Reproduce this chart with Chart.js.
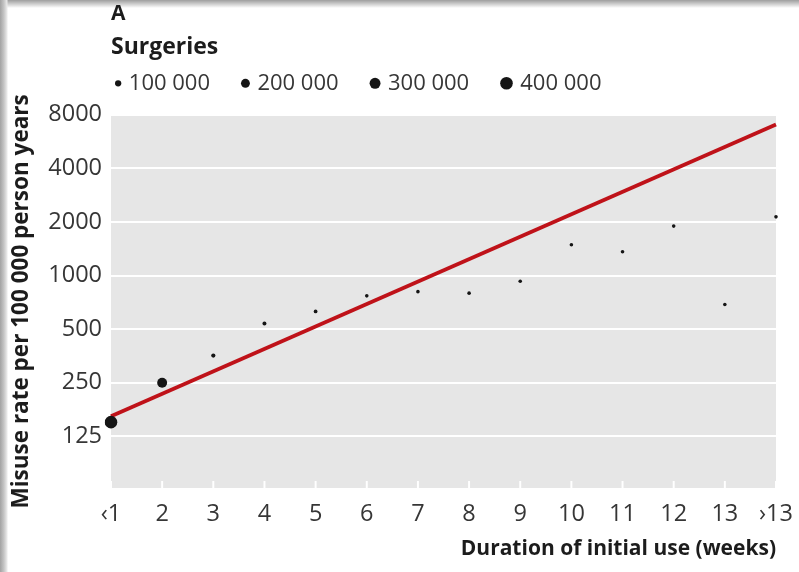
<!DOCTYPE html>
<html>
<head>
<meta charset="utf-8">
<script src="https://cdn.jsdelivr.net/npm/chart.js@4/dist/chart.umd.min.js"></script>
<style>
  html, body { margin: 0; padding: 0; background: #fff; }
  #wrap { position: relative; width: 799px; height: 572px; overflow: hidden; background: #fff; }
  .edge-top { position: absolute; left: 0; top: 0; width: 799px; height: 8px;
    background: linear-gradient(to bottom, #9e9e9e 0, #c2c2c2 3px, #e6e6e6 6px, rgba(255,255,255,0) 8px); }
  .edge-left { position: absolute; left: 0; top: 0; width: 8px; height: 572px;
    background: linear-gradient(to right, #a2a2a2 0, #c6c6c6 4px, #eaeaea 7px, rgba(255,255,255,0) 8px); }
  canvas { position: absolute; left: 0; top: 0; }
</style>
</head>
<body>
<div id="wrap">
  <div class="edge-top"></div>
  <div class="edge-left"></div>
  <canvas id="chart" width="799" height="572"></canvas>
</div>
<script>
// Duration of initial opioid use after surgery
const weeks = ['‹1', '2', '3', '4', '5', '6', '7', '8', '9', '10', '11', '12', '13', '›13'];
// Misuse rate per 100 000 person years for each duration
const misuseRate = [150, 250, 355, 538, 628, 769, 812, 796, 929, 1489, 1360, 1895, 687, 2136];
// Number of surgeries behind each point (sets the dot size)
const surgeries = [400000, 250000, 45000, 40000, 35000, 32000, 30000, 26000, 24000, 22000, 20000, 18000, 16000, 20000];
// Fitted trend at the shortest and longest duration
const fitRate = [162, 7050];
// Log-scale tick values
const yTickValues = [125, 250, 500, 1000, 2000, 4000, 8000];
// Surgery counts shown in the size key
const keySurgeries = [100000, 200000, 300000, 400000];

const FONT = '"Open Sans", "Noto Sans", sans-serif';
const DOT = '#151515';
const TEXT = '#363636';
const TITLE = '#1c1c1c';
const PLOT_BG = '#e6e6e6';

const dotRadius = n => Math.max(1.8, 6.3 * Math.sqrt(n / 400000));
const groupDigits = n => String(n).replace(/\B(?=(\d{3})+(?!\d))/g, ' ');

Chart.defaults.font.family = FONT;

// Grey panel behind the plotting area
const plotBackground = {
  id: 'plotBackground',
  beforeDraw(chart) {
    const { ctx, chartArea: a } = chart;
    ctx.save();
    ctx.fillStyle = PLOT_BG;
    ctx.fillRect(a.left, a.top, a.right - a.left, a.bottom - a.top);
    ctx.restore();
  }
};

// Short white tick marks rising from the bottom edge of the panel
const innerTicks = {
  id: 'innerTicks',
  beforeDatasetsDraw(chart) {
    const { ctx, chartArea: a, scales: { x } } = chart;
    ctx.save();
    ctx.strokeStyle = '#ffffff';
    ctx.lineWidth = 2;
    x.ticks.forEach((t, i) => {
      const px = x.getPixelForTick(i);
      ctx.beginPath();
      ctx.moveTo(px, a.bottom - 7);
      ctx.lineTo(px, a.bottom + 1);
      ctx.stroke();
    });
    ctx.restore();
  }
};

// Dot-size key under the "Surgeries" heading
const sizeKey = {
  id: 'sizeKey',
  afterDraw(chart) {
    const { ctx, chartArea: a } = chart;
    const y = a.top - 31.5;
    let cursor = a.left + 4;
    ctx.save();
    ctx.font = '22px ' + FONT;
    ctx.textBaseline = 'middle';
    ctx.textAlign = 'left';
    keySurgeries.forEach(n => {
      const r = dotRadius(n);
      const cx = cursor + r;
      ctx.beginPath();
      ctx.arc(cx, y, r, 0, Math.PI * 2);
      ctx.fillStyle = DOT;
      ctx.fill();
      const label = groupDigits(n);
      const tx = cx + r + 7.5;
      ctx.fillStyle = TEXT;
      ctx.fillText(label, tx, y);
      cursor = tx + ctx.measureText(label).width + 31;
    });
    ctx.restore();
  }
};

new Chart(document.getElementById('chart'), {
  type: 'line',
  data: {
    labels: weeks,
    datasets: [
      {
        label: 'Misuse rate',
        data: misuseRate,
        showLine: false,
        pointRadius: surgeries.map(dotRadius),
        pointHoverRadius: surgeries.map(dotRadius),
        pointBackgroundColor: DOT,
        pointBorderWidth: 0
      },
      {
        label: 'Fitted trend',
        data: [
          { x: weeks[0], y: fitRate[0] },
          { x: weeks[weeks.length - 1], y: fitRate[1] }
        ],
        borderColor: '#bf1219',
        borderWidth: 3.8,
        pointRadius: 0,
        tension: 0
      }
    ]
  },
  options: {
    responsive: false,
    animation: false,
    layout: { padding: { left: 8, right: 23, top: 0, bottom: 4 } },
    plugins: {
      legend: { display: false },
      tooltip: { enabled: false },
      title: {
        display: true,
        text: 'A',
        align: 'start',
        fullSize: false,
        color: TITLE,
        font: { size: 21, weight: 'bold' },
        padding: { top: 1, bottom: 0 }
      },
      subtitle: {
        display: true,
        text: 'Surgeries',
        align: 'start',
        fullSize: false,
        color: TITLE,
        font: { size: 23, weight: 'bold' },
        padding: { top: 7, bottom: 54 }
      }
    },
    scales: {
      x: {
        type: 'category',
        offset: false,
        grid: { display: false },
        border: { display: false },
        ticks: {
          autoSkip: false,
          maxRotation: 0,
          padding: 4,
          color: TEXT,
          font: { size: 23.5 }
        },
        title: {
          display: true,
          text: 'Duration of initial use (weeks)',
          align: 'end',
          color: TITLE,
          font: { size: 21, weight: 'bold' },
          padding: { top: 0, bottom: 6 }
        },
        afterFit(scale) { scale.height = 80; }
      },
      y: {
        type: 'logarithmic',
        min: 64,
        max: 8000,
        afterBuildTicks(scale) {
          scale.ticks = yTickValues.map(v => ({ value: v }));
        },
        grid: { color: '#ffffff', lineWidth: 2, drawTicks: false },
        border: { display: false },
        ticks: {
          padding: 9,
          color: TEXT,
          font: { size: 23.5 },
          callback: v => String(v)
        },
        title: {
          display: true,
          text: 'Misuse rate per 100 000 person years',
          color: TITLE,
          font: { size: 22.5, weight: 'bold' },
          padding: { top: 0, bottom: 0 }
        },
        afterFit(scale) { scale.width = 103; }
      }
    }
  },
  plugins: [plotBackground, innerTicks, sizeKey]
});
</script>
</body>
</html>
